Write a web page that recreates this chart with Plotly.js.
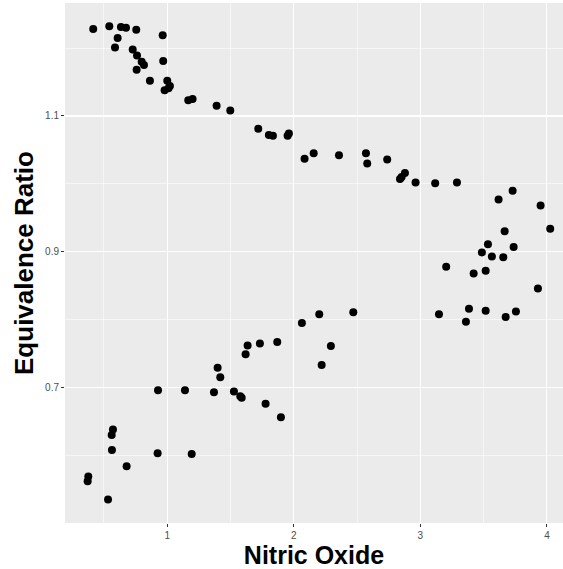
<!DOCTYPE html>
<html>
<head>
<meta charset="utf-8">
<script src="https://cdn.plot.ly/plotly-3.0.1.min.js"></script>
<style>html,body{margin:0;padding:0;background:#fff;}#chart{width:563px;height:569px;}</style>
</head>
<body>
<div id="chart"></div>
<script>
// Nitric Oxide (NOx) and Equivalence Ratio (E)
const nitricOxide = [
  0.415,0.542,0.634,0.674,0.755,0.964,0.608,0.587,0.727,0.761,
  0.798,0.816,0.968,0.758,0.863,1.000,1.021,1.010,0.979,1.166,
  1.200,1.390,1.498,1.719,1.803,1.835,1.951,1.961,2.085,2.157,
  2.357,2.570,2.580,2.738,2.839,2.852,2.878,2.962,3.117,3.289,
  3.729,3.618,3.950,4.026,3.666,3.534,3.737,3.486,3.565,3.655,
  3.204,3.421,3.516,3.929,3.147,3.384,3.516,3.360,3.674,3.755,
  2.470,2.201,2.064,2.293,2.220,1.869,1.732,1.635,1.619,1.398,
  1.419,0.927,1.140,1.369,1.527,1.588,1.577,1.777,1.898,0.571,
  0.561,0.563,0.924,1.193,0.679,0.376,0.371,0.532
];
const equivalenceRatio = [
  1.228,1.232,1.231,1.230,1.227,1.219,1.215,1.201,1.198,1.189,
  1.180,1.175,1.181,1.168,1.152,1.152,1.144,1.141,1.138,1.123,
  1.125,1.115,1.108,1.081,1.072,1.071,1.071,1.074,1.037,1.045,
  1.042,1.045,1.030,1.036,1.007,1.010,1.016,1.002,1.001,1.002,
  0.990,0.977,0.968,0.934,0.930,0.911,0.907,0.899,0.893,0.892,
  0.878,0.868,0.872,0.846,0.808,0.816,0.813,0.797,0.804,0.812,
  0.811,0.808,0.795,0.761,0.733,0.767,0.765,0.762,0.749,0.729,
  0.715,0.696,0.696,0.693,0.694,0.685,0.687,0.676,0.656,0.638,
  0.630,0.608,0.603,0.602,0.584,0.569,0.562,0.535
];
const xTickVals = [1,2,3,4];
const xTickText = ["1","2","3","4"];
const yTickVals = [0.7,0.9,1.1];
const yTickText = ["0.7","0.9","1.1"];

const trace = {
  x: nitricOxide, y: equivalenceRatio,
  type: 'scatter', mode: 'markers',
  marker: {color: '#000000', size: 8, line: {width: 0}},
  hoverinfo: 'x+y'
};
const layout = {
  width: 563, height: 569,
  margin: {l: 65, r: 0, t: 3, b: 46, pad: 0},
  paper_bgcolor: '#FFFFFF',
  plot_bgcolor: '#EBEBEB',
  showlegend: false,
  font: {family: 'Liberation Sans, Arial, sans-serif', color: '#000000'},
  xaxis: {
    range: [0.192, 4.127],
    tickmode: 'array', tickvals: xTickVals, ticktext: xTickText,
    ticks: 'outside', ticklen: 3, tickwidth: 1, tickcolor: '#333333',
    tickfont: {size: 10, color: '#4D4D4D'},
    showgrid: true, gridcolor: '#FFFFFF', gridwidth: 1.1,
    minor: {showgrid: true, gridcolor: '#FFFFFF', gridwidth: 0.55, dtick: 0.5, tick0: 0.5, ticks: ''},
    zeroline: false, showline: false,
    title: {text: 'Nitric Oxide', font: {size: 25, weight: 'bold', color: '#000000'}, standoff: 3}
  },
  yaxis: {
    range: [0.5004, 1.2664],
    tickmode: 'array', tickvals: yTickVals, ticktext: yTickText,
    ticks: 'outside', ticklen: 3, tickwidth: 1, tickcolor: '#333333',
    tickfont: {size: 10, color: '#4D4D4D'},
    showgrid: true, gridcolor: '#FFFFFF', gridwidth: 1.1,
    minor: {showgrid: true, gridcolor: '#FFFFFF', gridwidth: 0.55, dtick: 0.1, tick0: 0.6, ticks: ''},
    zeroline: false, showline: false,
    title: {text: 'Equivalence Ratio', font: {size: 26, weight: 'bold', color: '#000000'}, standoff: 3}
  }
};
Plotly.newPlot('chart', [trace], layout, {displayModeBar: false, staticPlot: true});
</script>
</body>
</html>
